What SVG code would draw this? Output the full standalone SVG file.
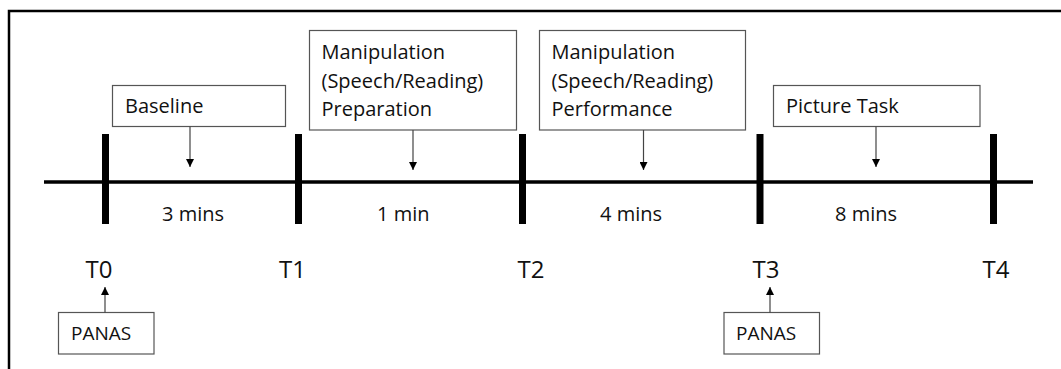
<svg xmlns="http://www.w3.org/2000/svg" width="1061" height="369" viewBox="0 0 1061 369">
<style>
.box{fill:#fff;stroke:#555;stroke-width:1.2}
.t{font-family:"Open Sans","Noto Sans",sans-serif;font-size:20px;fill:#111}
.tl{font-family:"Open Sans","Noto Sans",sans-serif;font-size:24px;fill:#111}
.pn{font-family:"Open Sans","Noto Sans",sans-serif;font-size:19px;fill:#111}
.arr{stroke:#444;stroke-width:1.2;fill:none;marker-end:url(#ah)}
.tick{stroke:#000;stroke-width:7}
</style>
<defs>
<marker id="ah" markerWidth="8" markerHeight="8" refX="8" refY="4" orient="auto" markerUnits="userSpaceOnUse">
<path d="M0,0 L8,4 L0,8 Z" fill="#000"/>
</marker>
</defs>
<rect width="1061" height="369" fill="#fff"/>
<g id="frame">
<path d="M9,369 V11 H1061" fill="none" stroke="#000" stroke-width="2.5"/>
</g>
<g id="timeline">
<line x1="44" y1="182" x2="1033" y2="182" stroke="#000" stroke-width="3.5"/>
<line class="tick" x1="105.5" y1="134" x2="105.5" y2="224"/>
<line class="tick" x1="298.5" y1="134" x2="298.5" y2="224"/>
<line class="tick" x1="522.5" y1="134" x2="522.5" y2="224"/>
<line class="tick" x1="760" y1="134" x2="760" y2="224"/>
<line class="tick" x1="993.5" y1="134" x2="993.5" y2="224"/>
</g>
<g id="durations">
<text class="t" x="162" y="221">3 mins</text>
<text class="t" x="377" y="221">1 min</text>
<text class="t" x="600" y="221">4 mins</text>
<text class="t" x="835" y="221">8 mins</text>
</g>
<g id="timepoints">
<text class="tl" x="99" y="278" text-anchor="middle">T0</text>
<text class="tl" x="292.5" y="278" text-anchor="middle">T1</text>
<text class="tl" x="531" y="278" text-anchor="middle">T2</text>
<text class="tl" x="766" y="278" text-anchor="middle">T3</text>
<text class="tl" x="996" y="278" text-anchor="middle">T4</text>
</g>
<g id="baseline">
<rect class="box" x="112.5" y="85.5" width="173" height="41"/>
<text class="t" x="125" y="112.5">Baseline</text>
</g>
<g id="prep">
<rect class="box" x="309.5" y="30.5" width="207" height="99.5"/>
<text class="t" x="321.5" y="58.5">Manipulation</text>
<text class="t" x="321.5" y="87.5">(Speech/Reading)</text>
<text class="t" x="321.5" y="115.5">Preparation</text>
</g>
<g id="perf">
<rect class="box" x="539.5" y="30.5" width="206" height="99.5"/>
<text class="t" x="551.5" y="58.5">Manipulation</text>
<text class="t" x="551.5" y="87.5">(Speech/Reading)</text>
<text class="t" x="551.5" y="115.5">Performance</text>
</g>
<g id="picture">
<rect class="box" x="773.5" y="85.5" width="206.5" height="41"/>
<text class="t" x="786" y="112.5">Picture Task</text>
</g>
<g id="panas1">
<rect class="box" x="58.5" y="312.5" width="95.5" height="41.5"/>
<text class="pn" x="71" y="339.5">PANAS</text>
</g>
<g id="panas2">
<rect class="box" x="724" y="312.5" width="95.5" height="41.5"/>
<text class="pn" x="736" y="339.5">PANAS</text>
</g>
<g id="connectors">
<line class="arr" x1="190" y1="126.5" x2="190" y2="167"/>
<line class="arr" x1="413" y1="130" x2="413" y2="170"/>
<line class="arr" x1="643.5" y1="130" x2="643.5" y2="170"/>
<line class="arr" x1="876" y1="126.5" x2="876" y2="167"/>
<line class="arr" x1="105" y1="312.5" x2="105" y2="287"/>
<line class="arr" x1="770" y1="312.5" x2="770" y2="287"/>
</g>
</svg>
